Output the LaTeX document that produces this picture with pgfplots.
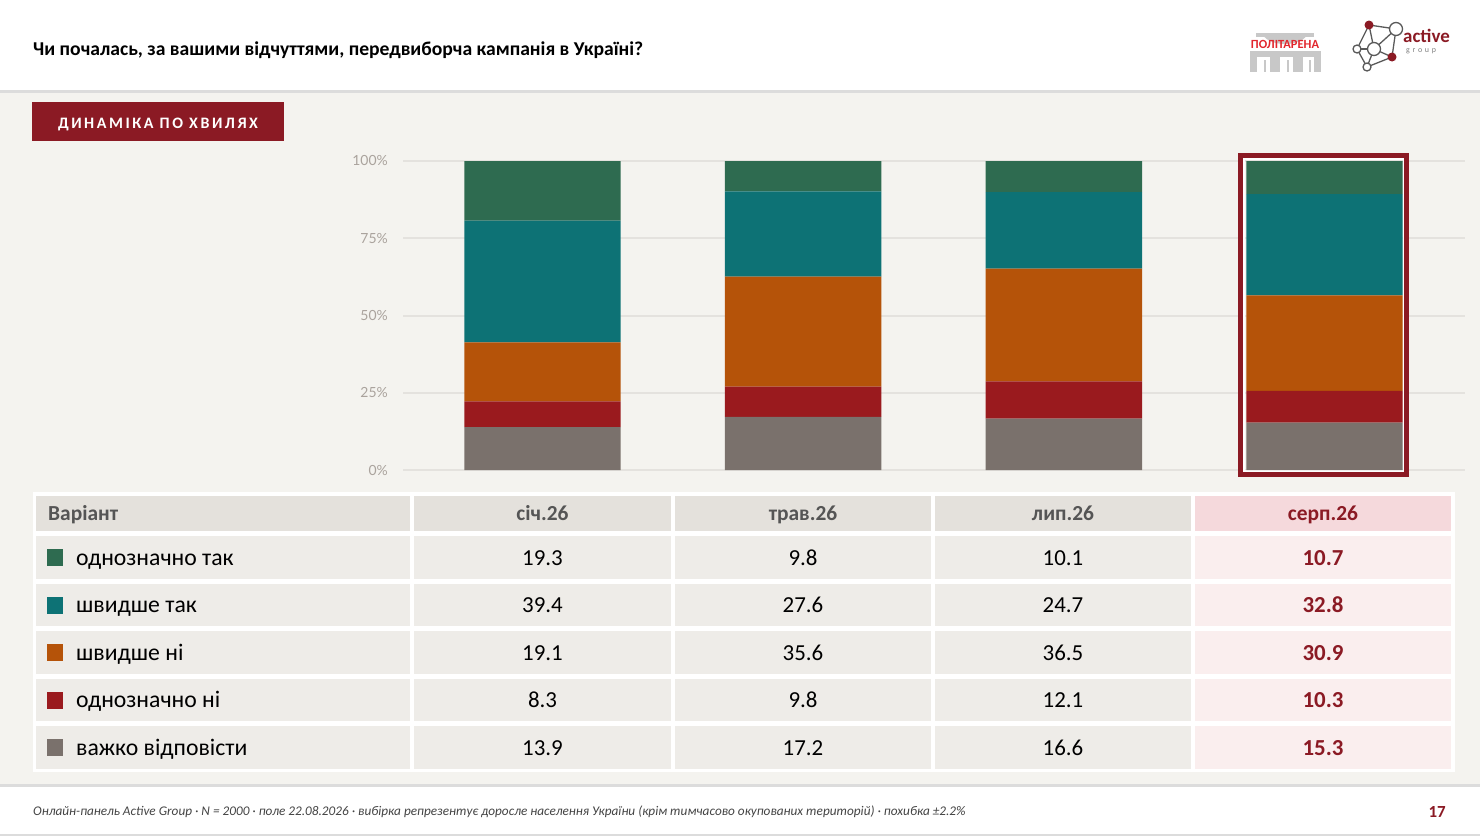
\documentclass[border=0pt]{standalone}
\usepackage{pgfplots}
\pgfplotsset{compat=1.18}
\usepackage{pgfplotstable}
\usepackage{fontspec}
\setmainfont{Carlito}
\newfontfamily\latofont{Lato}
\newfontfamily\spacedfont[LetterSpace=16]{Carlito}
\definecolor{cgreen}{RGB}{46,107,80}
\definecolor{cteal}{RGB}{13,114,117}
\definecolor{corange}{RGB}{181,83,9}
\definecolor{cred}{RGB}{154,26,30}
\definecolor{cgray}{RGB}{122,113,108}
\definecolor{brand}{RGB}{139,26,36}
\definecolor{bodybg}{RGB}{244,243,239}
\definecolor{gridc}{RGB}{228,226,222}
\definecolor{tickc}{RGB}{170,163,157}
\definecolor{hdrc}{RGB}{228,225,220}
\definecolor{rowc}{RGB}{238,236,232}
\definecolor{hlhdr}{RGB}{245,217,220}
\definecolor{hlrow}{RGB}{250,238,238}
\definecolor{txtc}{RGB}{85,85,85}
\definecolor{linec}{RGB}{220,220,220}
\definecolor{logogray}{RGB}{200,200,200}
\definecolor{logored}{RGB}{226,38,45}
\definecolor{netgray}{RGB}{90,90,90}

% columns: x, then series bottom to top
\pgfplotstableread{
x gray red orange teal green
0 13.9 8.3 19.1 39.4 19.3
1 17.2 9.8 35.6 27.6 9.8
2 16.6 12.1 36.5 24.7 10.1
3 15.3 10.3 30.9 32.8 10.7
}\data

\begin{document}
\begin{tikzpicture}
\begin{scope}[x=1bp,y=-1bp]
\useasboundingbox (0,0) rectangle (1480,837);
\fill[white] (0,0) rectangle (1480,837);
\fill[bodybg] (0,93) rectangle (1480,784);
\fill[linec] (0,90) rectangle (1480,93);
\fill[linec] (0,784) rectangle (1480,787);
\fill[linec] (0,834) rectangle (1480,836);
% title
\node[anchor=base west, inner sep=0, font=\bfseries\fontsize{19.7}{23}\selectfont] at (33,55) {Чи почалась, за вашими відчуттями, передвиборча кампанія в Україні?};
% button
\fill[brand] (32,102) rectangle (284,141);
\node[anchor=base, inner sep=0, text=white, font=\spacedfont\bfseries\fontsize{16}{19}\selectfont] at (158,128) {ДИНАМІКА ПО ХВИЛЯХ};
% logo politarena
\fill[logogray] (1263,33) arc[start angle=180, end angle=0, x radius=22, y radius=11] -- cycle;
\fill[logogray] (1256,33) rectangle (1314,37);
\node[anchor=base, inner sep=0, text=logored, font=\bfseries\fontsize{12.5}{14}\selectfont] at (1285,48) {ПОЛІТАРЕНА};
\fill[logogray] (1250,51) rectangle (1321,57);
\fill[logogray] (1250,57) rectangle (1257,72);
\fill[logogray] (1264,60) rectangle (1266,72);
\fill[logogray] (1270,57) rectangle (1280,72);
\fill[logogray] (1287,60) rectangle (1289,72);
\fill[logogray] (1293,57) rectangle (1303,72);
\fill[logogray] (1309,60) rectangle (1311,72);
\fill[logogray] (1314,57) rectangle (1321,72);
% logo active group
\begin{scope}[netgray, line width=1.3bp]
\draw (1369,25) -- (1396,29);
\draw (1369,25) -- (1357,49);
\draw (1369,25) -- (1374,49);
\draw (1396,29) -- (1374,49);
\draw (1396,29) -- (1392,57);
\draw (1357,49) -- (1374,49);
\draw (1357,49) -- (1367,67);
\draw (1374,49) -- (1367,67);
\draw (1374,49) -- (1392,57);
\draw (1367,67) -- (1392,57);
\filldraw[fill=white] (1396,29) circle[radius=6.5];
\filldraw[fill=white] (1374,49) circle[radius=6.5];
\filldraw[fill=white] (1357,49) circle[radius=4];
\filldraw[fill=white] (1367,67) circle[radius=4];
\fill[brand] (1369,25) circle[radius=4.5];
\fill[brand] (1392,57) circle[radius=4.5];
\end{scope}
\node[anchor=base west, inner sep=0, text=brand, font=\bfseries\fontsize{19}{22}\selectfont] at (1403,42) {active};
\node[anchor=base west, inner sep=0, text=gray, font=\fontsize{8}{9}\selectfont] at (1406,52) {g\,\,r\,\,o\,\,u\,\,p};
% table
\fill[white] (33,492) rectangle (1455,772);
\fill[hdrc] (36,496) rectangle (410,531);
\foreach \xa/\xb in {414/671,675/931,935/1191} \fill[hdrc] (\xa,496) rectangle (\xb,531);
\fill[hlhdr] (1195,496) rectangle (1451,531);
\foreach \ya/\yb in {536/579,584/626,631/674,679/721,726/769}{
  \fill[rowc] (36,\ya) rectangle (410,\yb);
  \foreach \xa/\xb in {414/671,675/931,935/1191} \fill[rowc] (\xa,\ya) rectangle (\xb,\yb);
  \fill[hlrow] (1195,\ya) rectangle (1451,\yb);
}
\node[anchor=base west, inner sep=0, text=txtc, font=\bfseries\fontsize{21.5}{25}\selectfont] at (48,520.5) {Варіант};
\foreach \cx/\lab in {542.5/січ.26,803/трав.26,1063/лип.26}
  \node[anchor=base, inner sep=0, text=txtc, font=\bfseries\fontsize{21.5}{25}\selectfont] at (\cx,520.5) {\lab};
\node[anchor=base, inner sep=0, text=brand, font=\bfseries\fontsize{21.5}{25}\selectfont] at (1323,520.5) {серп.26};
\foreach \cy/\col/\lab/\va/\vb/\vc/\vd in {
  557.5/cgreen/однозначно так/19.3/9.8/10.1/10.7,
  605/cteal/швидше так/39.4/27.6/24.7/32.8,
  652.5/corange/швидше ні/19.1/35.6/36.5/30.9,
  700/cred/однозначно ні/8.3/9.8/12.1/10.3,
  747.5/cgray/важко відповісти/13.9/17.2/16.6/15.3}{
  \fill[\col] (47,\cy-8.5) rectangle (63,\cy+8.5);
  \node[anchor=base west, inner sep=0, font=\fontsize{23.8}{28}\selectfont] at (76,\cy+7.5) {\lab};
  \node[anchor=base, inner sep=0, font=\fontsize{23}{27}\selectfont] at (542.5,\cy+7.5) {\va};
  \node[anchor=base, inner sep=0, font=\fontsize{23}{27}\selectfont] at (803,\cy+7.5) {\vb};
  \node[anchor=base, inner sep=0, font=\fontsize{23}{27}\selectfont] at (1063,\cy+7.5) {\vc};
  \node[anchor=base, inner sep=0, text=brand, font=\bfseries\fontsize{23}{27}\selectfont] at (1323,\cy+7.5) {\vd};
}
% footer
\node[anchor=base west, inner sep=0, text=txtc!80!black, font=\itshape\fontsize{13.3}{16}\selectfont] at (33,815) {Онлайн-панель Active Group · N = 2000 · поле 22.08.2026 · вибірка репрезентує доросле населення України (крім тимчасово окупованих територій) · похибка ±2.2\%};
\node[anchor=base east, inner sep=0, text=brand, font=\bfseries\fontsize{17}{20}\selectfont] at (1446,817) {17};
\end{scope}

\begin{axis}[
  at={(403bp,-470bp)}, anchor=south west,
  width=1062bp, height=309bp, scale only axis,
  xmin=-0.535, xmax=3.539, ymin=0, ymax=100,
  axis line style={draw=none}, tick style={draw=none},
  xtick=\empty,
  ytick={0,25,50,75,100},
  yticklabels={0\%,25\%,50\%,75\%,100\%},
  ymajorgrids, grid style={color=gridc, line width=2bp},
  yticklabel style={font=\latofont\fontsize{14}{16}\selectfont, text=tickc, inner sep=0pt, xshift=-15bp},
  /pgf/number format/assume math mode=true,
  ybar stacked, bar width=0.6,
  clip=false,
]
\addplot[fill=cgray, draw=none] table[x=x, y=gray] {\data};
\addplot[fill=cred, draw=none] table[x=x, y=red] {\data};
\addplot[fill=corange, draw=none] table[x=x, y=orange] {\data};
\addplot[fill=cteal, draw=none] table[x=x, y=teal] {\data};
\addplot[fill=cgreen, draw=none] table[x=x, y=green] {\data};
\draw[brand, line width=5bp] (axis cs:2.678,-1.46) rectangle (axis cs:3.3145,101.8);
\draw[white, line width=1.5bp] (axis cs:2.691,-0.4) rectangle (axis cs:3.3025,100.6);
\end{axis}
\end{tikzpicture}
\end{document}
